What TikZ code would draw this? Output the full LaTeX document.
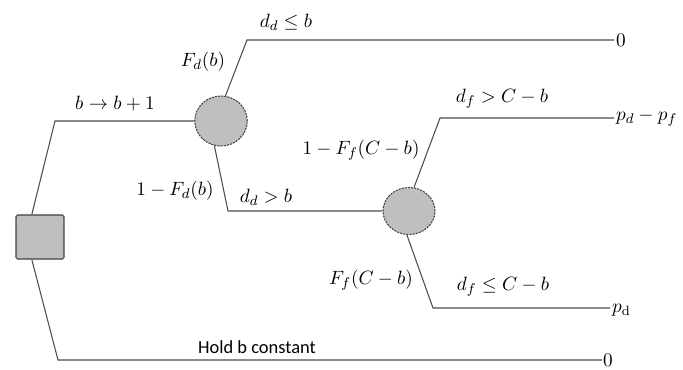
\documentclass[tikz,border=0pt]{standalone}
\usepackage{amsmath}
\usepackage{fontspec}
\newfontfamily\carlito{Carlito}
\usepackage{tikz}
\usetikzlibrary{shapes.geometric}
\tikzset{
  dec/.style={draw=black!75, fill=gray!50, rounded corners=0.3mm,
              minimum width=0.96cm, minimum height=0.88cm, line width=0.6pt},
  chance/.style={draw=black!75, fill=gray!50, ellipse, dashed,
                 dash pattern=on 1.2pt off 0.6pt, line width=0.6pt},
  br/.style={draw=black!70, line width=0.6pt},
  lbl/.style={font=\fontsize{11}{13}\selectfont, inner sep=1pt},
  pay/.style={lbl, anchor=west},
}

\begin{document}
\begin{tikzpicture}[x=0.02cm, y=-0.02cm]
    \useasboundingbox (0,0) rectangle (683,369);
    % decision and chance nodes
    \node[dec] (buy) at (40,237) {};
    \node[chance, minimum width=1.05cm, minimum height=1.0cm] (chd) at (221,121) {};
    \node[chance, minimum width=1.04cm, minimum height=0.94cm] (chf) at (409,211) {};

    % corners and end points
    \coordinate (up) at (55,121);
    \coordinate (hold) at (58,360);
    \coordinate (ddle) at (247,40);
    \coordinate (ddgt) at (228,211);
    \coordinate (dfgt) at (440,118);
    \coordinate (dfle) at (433,308);
    \node[pay] (z1) at (614,40) {$0$};
    \node[pay] (pdf) at (614,118) {$p_d - p_f$};
    \node[pay] (pd) at (610,310) {$p_{\mathrm{d}}$};
    \node[pay, inner sep=0.5pt] (z2) at (602,360) {$0$};

    % branches
    \draw[br] (buy.110) -- (up) -- (chd.west);
    \draw[br] (buy.250) -- (hold) -- (z2.west);
    \draw[br] (chd.80) -- (ddle) -- (z1.west);
    \draw[br] (chd.255) -- (ddgt) -- (chf.west);
    \draw[br] (chf.78) -- (dfgt) -- (pdf.west);
    \draw[br] (chf.265) -- (dfle) -- (pd.west |- dfle);

    % labels
    \node[lbl] (l1) at (115,104) {$b \to b + 1$};
    \node[lbl] (l2) at (203,62) {$F_d(b)$};
    \node[lbl] (l3) at (286,22) {$d_d \le b$};
    \node[lbl] (l4) at (175,191) {$1 - F_d(b)$};
    \node[lbl] (l5) at (266,197) {$d_d > b$};
    \node[lbl] (l6) at (361,150) {$1 - F_f(C - b)$};
    \node[lbl] (l7) at (502,99) {$d_f > C - b$};
    \node[lbl] (l8) at (371,280) {$F_f(C - b)$};
    \node[lbl] (l9) at (503,287) {$d_f \le C - b$};
    \node[lbl, font=\carlito\fontsize{10.5}{12}\selectfont] (l10) at (257,347) {Hold b constant};
  \end{tikzpicture}
\end{document}
